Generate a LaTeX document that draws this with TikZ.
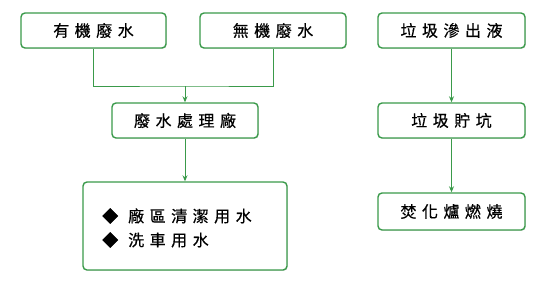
\documentclass[tikz,border=0pt]{standalone}
\usepackage{fontspec}
\setmainfont{Noto Sans CJK TC}[FakeBold=0.6]
\usetikzlibrary{arrows.meta,shadows}
\definecolor{gline}{HTML}{3A9A4A}
\newcommand{\gs}{\hspace{5.5pt}}
\tikzset{
  box/.style={draw=gline, line width=1.4pt, rounded corners=4pt, fill=white,
    drop shadow={shadow xshift=0.8pt, shadow yshift=-0.8pt, opacity=0.25},
    font=\fontsize{16}{19}\selectfont, inner sep=0pt},
  conn/.style={draw=gline, line width=0.9pt},
  arr/.style={conn, -{Stealth[length=6pt,width=5pt]}},
  item/.style={font=\fontsize{16}{19}\selectfont, anchor=west, inner sep=0pt}
}
\begin{document}
\begin{tikzpicture}[x=1pt,y=-1pt]
\useasboundingbox (0,0) rectangle (548,285);
\node[box, minimum width=145pt, minimum height=35pt] (a) at (93.5,30.5) {有\gs 機\gs 廢\gs 水};
\node[box, minimum width=146pt, minimum height=35pt] (b) at (273,30.5) {無\gs 機\gs 廢\gs 水};
\node[box, minimum width=146pt, minimum height=35pt] (c) at (185,120.5) {廢\gs 水\gs 處\gs 理\gs 廠};
\node[box, minimum width=204pt, minimum height=88pt] (d) at (185,226) {};
\node[item] (d1) at (102,216) {◆\hspace{10pt}廠\gs 區\gs 清\gs 潔\gs 用\gs 水};
\node[item] (d2) at (102,240) {◆\hspace{10pt}洗\gs 車\gs 用\gs 水};
\node[box, minimum width=147pt, minimum height=35pt] (e) at (451.5,30.5) {垃\gs 圾\gs 滲\gs 出\gs 液};
\node[box, minimum width=147pt, minimum height=35pt] (f) at (451.5,120.5) {垃\gs 圾\gs 貯\gs 坑};
\node[box, minimum width=147pt, minimum height=37pt] (g) at (451.5,211.5) {焚\gs 化\gs 爐\gs 燃\gs 燒};
\coordinate (j) at (185,86);
\draw[conn] (a.south) |- (j) -| (b.south);
\draw[arr] (j) -- (c.north);
\draw[arr] (c.south) -- (d.north);
\draw[arr] (e.south) -- (f.north);
\draw[arr] (f.south) -- (g.north);
\end{tikzpicture}
\end{document}
